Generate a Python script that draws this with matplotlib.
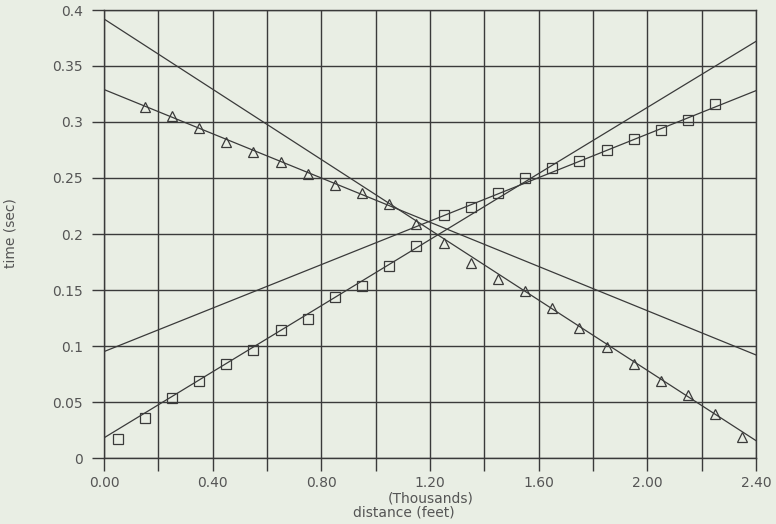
import numpy as np
import matplotlib
matplotlib.use('Agg')
import matplotlib.pyplot as plt
from matplotlib.ticker import MultipleLocator, FormatStrFormatter, FuncFormatter

# measured points, distance in thousands of feet
sq_x = [0.05, 0.15, 0.25, 0.35, 0.45, 0.55, 0.65, 0.75, 0.85, 0.95, 1.05, 1.15,
        1.25, 1.35, 1.45, 1.55, 1.65, 1.75, 1.85, 1.95, 2.05, 2.15, 2.25]
sq_t = [0.017, 0.036, 0.054, 0.069, 0.084, 0.096, 0.114, 0.124, 0.144, 0.154, 0.171, 0.189,
        0.217, 0.224, 0.237, 0.250, 0.259, 0.265, 0.275, 0.285, 0.293, 0.302, 0.316]
tri_x = [0.15, 0.25, 0.35, 0.45, 0.55, 0.65, 0.75, 0.85, 0.95, 1.05, 1.15, 1.25,
         1.35, 1.45, 1.55, 1.65, 1.75, 1.85, 1.95, 2.05, 2.15, 2.25, 2.35]
tri_t = [0.313, 0.305, 0.295, 0.282, 0.273, 0.264, 0.254, 0.244, 0.237, 0.227, 0.209, 0.192,
         0.174, 0.160, 0.149, 0.134, 0.116, 0.099, 0.084, 0.069, 0.056, 0.039, 0.019]

# fitted lines, value at each end of the axis
fit_x = [0.0, 2.4]
fit_sq_steep = [0.018, 0.372]
fit_sq_flat = [0.095, 0.328]
fit_tri_flat = [0.329, 0.092]
fit_tri_steep = [0.392, 0.0155]

BG = '#e9eee4'
INK = '#3a3a3a'
TXT = '#555555'

fig = plt.figure(figsize=(7.76, 5.24), dpi=100, facecolor=BG)
ax = fig.add_axes([104 / 776, 66 / 524, 652 / 776, 448 / 524])
ax.set_facecolor(BG)

for y in (fit_sq_steep, fit_sq_flat, fit_tri_flat, fit_tri_steep):
    ax.plot(fit_x, y, color=INK, lw=0.9, zorder=3)

ax.plot(sq_x, sq_t, ls='none', marker='s', ms=7.5, mfc='none', mec=INK, mew=0.9, zorder=4)
ax.plot(tri_x, tri_t, ls='none', marker='^', ms=7.5, mfc='none', mec=INK, mew=0.9, zorder=4)

ax.set_xlim(0, 2.4)
ax.set_ylim(0, 0.4)
ax.xaxis.set_major_locator(MultipleLocator(0.4))
ax.xaxis.set_minor_locator(MultipleLocator(0.2))
ax.xaxis.set_major_formatter(FormatStrFormatter('%.2f'))
ax.yaxis.set_major_locator(MultipleLocator(0.05))
ax.yaxis.set_major_formatter(FuncFormatter(lambda v, p: '%g' % round(v, 3)))

ax.grid(True, which='both', color=INK, lw=1.0, zorder=1)
ax.set_axisbelow(True)
for s in ax.spines.values():
    s.set_color(INK)
    s.set_linewidth(1.0)

ax.tick_params(axis='both', which='both', direction='out', length=9, width=1.0,
               color=INK, labelcolor=TXT, labelsize=10)
ax.tick_params(axis='x', pad=4)
ax.tick_params(axis='y', pad=6)

fig.text(431 / 776, 1 - 498 / 524, '(Thousands)', ha='center', va='center',
         color=TXT, fontsize=10)
fig.text(404 / 776, 1 - 513 / 524, 'distance (feet)', ha='center', va='center',
         color=TXT, fontsize=10)
fig.text(11 / 776, 1 - 233 / 524, 'time (sec)', ha='center', va='center',
         rotation=90, color=TXT, fontsize=10)

fig.savefig('out.png', dpi=100, facecolor=BG)
